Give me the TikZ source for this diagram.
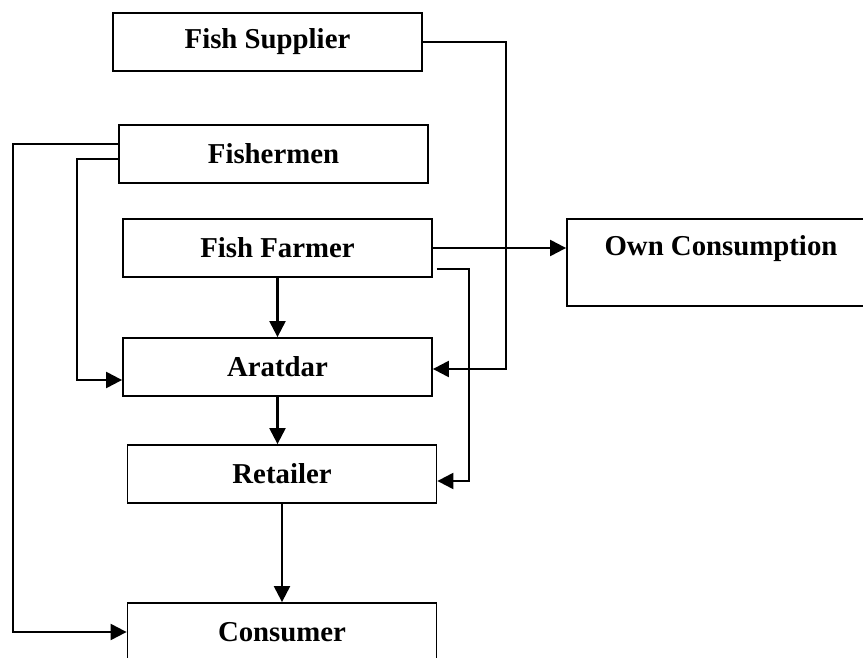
\documentclass[tikz,border=0pt]{standalone}
\usepackage{fontspec}
\setmainfont{Liberation Serif}
\usetikzlibrary{arrows.meta,positioning,calc}
\tikzset{
    % boxes of the marketing channel
    actor/.style={rectangle,draw=black,line width=0.9pt,minimum width=154.5pt,minimum height=29pt,inner sep=0pt,align=center,font=\fontsize{14.4}{17}\selectfont\bfseries},
    % connectors
    flow/.style={-{Triangle[length=8pt,width=8pt]},line width=1.1pt},
}

\begin{document}
\begin{tikzpicture}[x=0.5pt,y=-0.5pt]
  \fill[white] (0,0) rectangle (863,658);
  \useasboundingbox (0,0) rectangle (863,658);
  \clip (0,0) rectangle (863,658);

  % Channel members
  \node[actor] (supplier) at (267.5,42) {Fish Supplier};
  \node[actor] (fishermen) at (273.5,154) {Fishermen};
  \node[actor] (farmer) at (277.5,248) {Fish Farmer};
  \node[actor] (aratdar) at (277.5,367) {Aratdar};
  \node[actor] (retailer) at (282,474) {Retailer};
  \node[actor] (consumer) at (282,632) {Consumer};
  \node[actor,minimum width=170pt,minimum height=43.5pt] (ownc) at (737,262.5) {Own Consumption\hspace*{16pt}\\\mbox{}};

  % Bend points
  \coordinate (supbend) at (506,369);
  \coordinate (fishout) at (13,632);
  \coordinate (fishin) at (77,380);
  \coordinate (farmbend) at (469,481);

  % Supplier to aratdar
  \draw[flow] (supplier.east) -| (supbend) -- (supbend -| aratdar.east);

  % Fishermen to aratdar and consumer
  \draw[flow] ($(fishermen.west)+(0,-10)$) -| (fishout) -- (consumer.west);
  \draw[flow] ($(fishermen.west)+(0,5)$) -| (fishin) -- (fishin -| aratdar.west);

  % Fish farmer outlets
  \draw[flow] (farmer.east) -- (farmer.east -| ownc.west);
  \draw[flow] ($(farmer.south east)+(4,-9)$) -| (farmbend) -- (farmbend -| retailer.east);
  \draw[flow] (farmer) -- (aratdar);

  % Main chain
  \draw[flow] (aratdar.south) -- (aratdar.south |- retailer.north);
  \draw[flow] (retailer) -- (consumer);
\end{tikzpicture}
\end{document}
